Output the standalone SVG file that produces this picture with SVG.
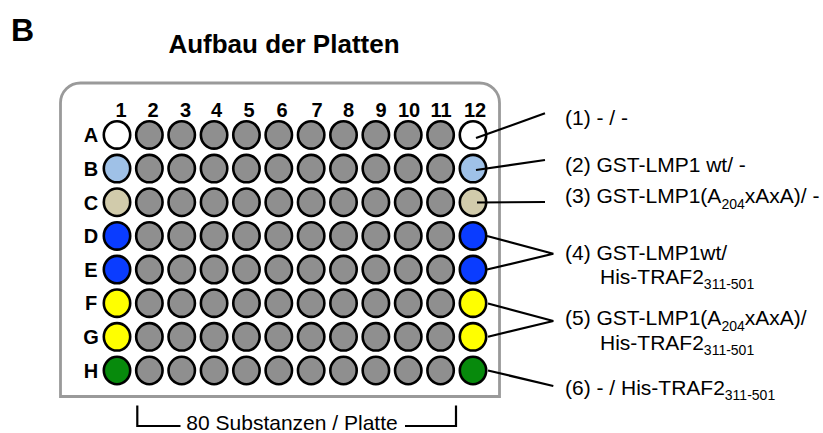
<svg xmlns="http://www.w3.org/2000/svg" width="823" height="433" viewBox="0 0 823 433">
<style>
text{font-family:"Liberation Sans",Arial,sans-serif;fill:#000}
.b{font-weight:bold}
.hdr{font-size:20px;font-weight:bold;text-anchor:middle}
.lg{font-size:21px}
.sub{font-size:14px}
.w{stroke:#000;stroke-width:2.6}
.g{fill:#8f8f8f}
.c{stroke:#000;stroke-width:2.2;fill:none}
</style>
<rect width="823" height="433" fill="#fff"/>
<text class="b" x="11" y="41" font-size="32">B</text>
<text class="b" x="284" y="53" font-size="26" text-anchor="middle">Aufbau der Platten</text>
<g id="plate">
<path d="M60.5,396.5 V103 A20,20 0 0 1 80.5,83 H479.5 A20,20 0 0 1 499.5,103 V396.5 Z" fill="#fff" stroke="#9a9a9a" stroke-width="2.8"/>
</g>
<g id="col-labels">
<text class="hdr" x="121" y="116.5">1</text>
<text class="hdr" x="153" y="116.5">2</text>
<text class="hdr" x="185.5" y="116.5">3</text>
<text class="hdr" x="216.5" y="116.5">4</text>
<text class="hdr" x="249" y="116.5">5</text>
<text class="hdr" x="282" y="116.5">6</text>
<text class="hdr" x="317" y="116.5">7</text>
<text class="hdr" x="348.5" y="116.5">8</text>
<text class="hdr" x="381" y="116.5">9</text>
<text class="hdr" x="409" y="116.5">10</text>
<text class="hdr" x="441" y="116.5">11</text>
<text class="hdr" x="475" y="116.5">12</text>
</g>
<g id="row-labels">
<text class="hdr" x="91" y="142.2">A</text>
<text class="hdr" x="91" y="175.8">B</text>
<text class="hdr" x="91" y="209.5">C</text>
<text class="hdr" x="91" y="243.1">D</text>
<text class="hdr" x="91" y="276.8">E</text>
<text class="hdr" x="91" y="310.4">F</text>
<text class="hdr" x="91" y="344.1">G</text>
<text class="hdr" x="91" y="377.7">H</text>
</g>
<defs>
<g id="row11">
<ellipse class="w g" cx="149.36" cy="0" rx="13.2" ry="13.7"/>
<ellipse class="w g" cx="181.72" cy="0" rx="13.2" ry="13.7"/>
<ellipse class="w g" cx="214.08" cy="0" rx="13.2" ry="13.7"/>
<ellipse class="w g" cx="246.44" cy="0" rx="13.2" ry="13.7"/>
<ellipse class="w g" cx="278.8" cy="0" rx="13.2" ry="13.7"/>
<ellipse class="w g" cx="311.16" cy="0" rx="13.2" ry="13.7"/>
<ellipse class="w g" cx="343.52" cy="0" rx="13.2" ry="13.7"/>
<ellipse class="w g" cx="375.88" cy="0" rx="13.2" ry="13.7"/>
<ellipse class="w g" cx="408.24" cy="0" rx="13.2" ry="13.7"/>
<ellipse class="w g" cx="440.6" cy="0" rx="13.2" ry="13.7"/>
</g>
</defs>
<g id="wells">
<use href="#row11" y="134.95"/>
<use href="#row11" y="168.6"/>
<use href="#row11" y="202.25"/>
<use href="#row11" y="235.9"/>
<use href="#row11" y="269.55"/>
<use href="#row11" y="303.2"/>
<use href="#row11" y="336.85"/>
<use href="#row11" y="370.5"/>
<ellipse class="w" fill="#ffffff" cx="117" cy="134.95" rx="13.2" ry="13.7"/>
<ellipse class="w" fill="#9fc1e7" cx="117" cy="168.6" rx="13.2" ry="13.7"/>
<ellipse class="w" fill="#d1cbab" cx="117" cy="202.25" rx="13.2" ry="13.7"/>
<ellipse class="w" fill="#0a3cff" cx="117" cy="235.9" rx="13.2" ry="13.7"/>
<ellipse class="w" fill="#0a3cff" cx="117" cy="269.55" rx="13.2" ry="13.7"/>
<ellipse class="w" fill="#ffff00" cx="117" cy="303.2" rx="13.2" ry="13.7"/>
<ellipse class="w" fill="#ffff00" cx="117" cy="336.85" rx="13.2" ry="13.7"/>
<ellipse class="w" fill="#078a0c" cx="117" cy="370.5" rx="13.2" ry="13.7"/>
<ellipse class="w" fill="#ffffff" cx="473" cy="134.95" rx="13.2" ry="13.7"/>
<ellipse class="w" fill="#9fc1e7" cx="473" cy="168.6" rx="13.2" ry="13.7"/>
<ellipse class="w" fill="#d1cbab" cx="473" cy="202.25" rx="13.2" ry="13.7"/>
<ellipse class="w" fill="#0a3cff" cx="473" cy="235.9" rx="13.2" ry="13.7"/>
<ellipse class="w" fill="#0a3cff" cx="473" cy="269.55" rx="13.2" ry="13.7"/>
<ellipse class="w" fill="#ffff00" cx="473" cy="303.2" rx="13.2" ry="13.7"/>
<ellipse class="w" fill="#ffff00" cx="473" cy="336.85" rx="13.2" ry="13.7"/>
<ellipse class="w" fill="#078a0c" cx="473" cy="370.5" rx="13.2" ry="13.7"/>
</g>
<g id="connectors">
<path class="c" d="M476,138 L545,113.3"/>
<path class="c" d="M476,170 L545,160"/>
<path class="c" d="M477,202.5 L545,202"/>
<path class="c" d="M487,236 L553.3,253.8 L487,269.5"/>
<path class="c" d="M488,303.5 L553.3,321 L488,336.7"/>
<path class="c" d="M488,370.5 L553.3,386"/>
</g>
<g id="legend">
<text class="lg" x="565" y="125">(1) - / -</text>
<text class="lg" x="565" y="171.7">(2) GST-LMP1 wt/ -</text>
<text class="lg" x="565" y="203.3">(3) GST-LMP1(A<tspan class="sub" dy="5.5">204</tspan><tspan dy="-5.5">xAxA)/ -</tspan></text>
<text class="lg" x="565" y="259.5">(4) GST-LMP1wt/</text>
<text class="lg" x="600" y="283.5">His-TRAF2<tspan class="sub" dy="5">311-501</tspan></text>
<text class="lg" x="565" y="325">(5) GST-LMP1(A<tspan class="sub" dy="5.5">204</tspan><tspan dy="-5.5">xAxA)/</tspan></text>
<text class="lg" x="600" y="350">His-TRAF2<tspan class="sub" dy="5">311-501</tspan></text>
<text class="lg" x="565" y="395">(6) - / His-TRAF2<tspan class="sub" dy="5">311-501</tspan></text>
</g>
<g id="bracket">
<path class="c" d="M137.3,405.5 V426 H180.5"/>
<path class="c" d="M405,426 H456 V405.5"/>
<text x="292" y="430" font-size="21" text-anchor="middle">80 Substanzen / Platte</text>
</g>
</svg>
